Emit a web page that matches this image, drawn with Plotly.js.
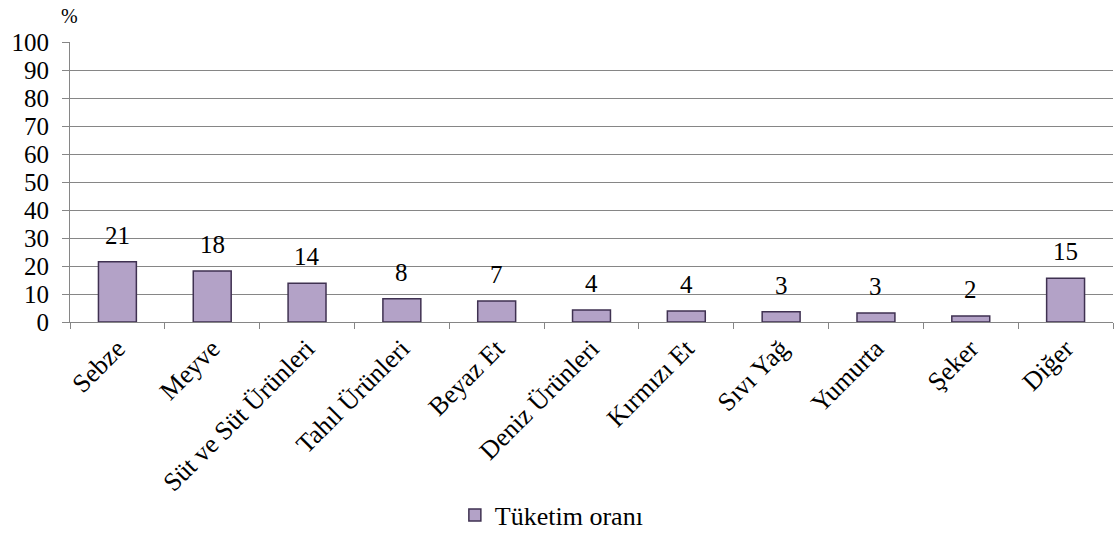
<!DOCTYPE html>
<html><head><meta charset="utf-8">
<script src="https://cdn.plot.ly/plotly-3.0.1.min.js"></script>
<style>body{margin:0;background:#fff}#c{width:1115px;height:540px}</style>
</head><body><div id="c"></div>
<script>
var categories = ["Sebze","Meyve","Süt ve Süt Ürünleri","Tahıl Ürünleri","Beyaz Et","Deniz Ürünleri","Kırmızı Et","Sıvı Yağ","Yumurta","Şeker","Diğer"];
var values = [21.5,18.2,13.8,8.3,7.5,4.3,3.9,3.7,3.2,2.1,15.6];
var valueLabels = ["21","18","14","8","7","4","4","3","3","2","15"];
var yTicks = [0,10,20,30,40,50,60,70,80,90,100];
var seriesName = "Tüketim oranı";

var font = "Liberation Serif";
var trace = {
  type:"bar", x:categories, y:values, name:seriesName, width:0.4,
  marker:{color:"#b3a2c7", line:{color:"#3f3151", width:1.5}},
  hoverinfo:"x+y"
};
var annotations = categories.map(function(c,i){
  return {x:c, y:values[i], xref:"x", yref:"y", text:valueLabels[i], showarrow:false,
    yanchor:"bottom", yshift:11, font:{family:font, size:25, color:"#000"}};
});
annotations.push({x:0, y:1, xref:"paper", yref:"paper", text:"%", showarrow:false,
  xanchor:"center", yanchor:"bottom", xshift:-1, yshift:13, font:{family:font, size:20, color:"#000"}});
var layout = {
  width:1115, height:540,
  margin:{l:70, r:2, t:42, b:218},
  paper_bgcolor:"#fff", plot_bgcolor:"#fff",
  font:{family:font, color:"#000"},
  bargap:0.6,
  xaxis:{type:"category", tickangle:-45, tickfont:{family:font, size:26, color:"#000"},
    showgrid:false, showline:true, linecolor:"#868686", linewidth:1,
    ticks:"outside", tickson:"boundaries", ticklen:6, tickcolor:"#868686", automargin:false},
  yaxis:{range:[0,100], tickvals:yTicks, ticktext:yTicks.map(String),
    tickfont:{family:font, size:25, color:"#000"},
    showgrid:true, gridcolor:"#868686", gridwidth:1, zeroline:false,
    showline:true, linecolor:"#868686", linewidth:1, ticklabelstandoff:8,
    ticks:"outside", ticklen:7, tickcolor:"#868686", automargin:false},
  showlegend:true,
  legend:{orientation:"h", x:0.462, xanchor:"center", y:-0.69, yanchor:"middle",
    font:{family:font, size:26, color:"#000"}, itemwidth:30},
  annotations:annotations
};
Plotly.newPlot("c",[trace],layout,{displayModeBar:false});
</script></body></html>
